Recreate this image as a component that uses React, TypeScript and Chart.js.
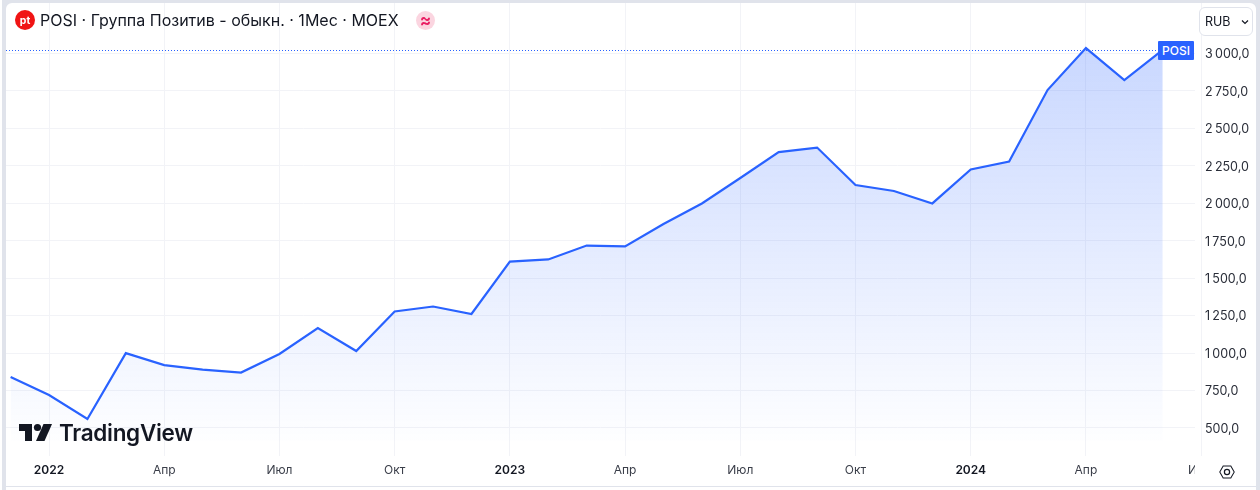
import React, { useEffect, useRef } from "react";
import { Chart, registerables } from "chart.js";

Chart.register(...registerables);

const monthIndex = [-1, 0, 1, 2, 3, 4, 5, 6, 7, 8, 9, 10, 11, 12, 13, 14, 15, 16, 17, 18, 19, 20, 21, 22, 23, 24, 25, 26, 27, 28, 29];
const closePrices = [840, 720, 560, 1000, 920, 890, 870, 994, 1167, 1014, 1278, 1311, 1261, 1611, 1625, 1718, 1712, 1862, 1999, 2169, 2342, 2372, 2122, 2082, 1999, 2226, 2279, 2756, 3036, 2823, 3024];
const lastPrice = 3024;
const xTickIndex = [0, 3, 6, 9, 12, 15, 18, 21, 24, 27, 30];
const xTickLabels = ["2022", "Апр", "Июл", "Окт", "2023", "Апр", "Июл", "Окт", "2024", "Апр", "Июл"];
const boldXTicks = ["2022", "2023", "2024"];
const yTicks = [500, 750, 1000, 1250, 1500, 1750, 2000, 2250, 2500, 2750, 3000];

const FONT = "Inter, 'Noto Sans', sans-serif";
const fmt = (v: number) => {
  const s = String(v);
  const int = s.length > 3 ? s.slice(0, -3) + "\u202f" + s.slice(-3) : s;
  return int + ",0";
};

const priceLine = {
  id: "priceLine",
  afterDatasetsDraw(chart: any) {
    const { ctx, chartArea, scales } = chart;
    const y = Math.round(scales.y.getPixelForValue(lastPrice)) + 0.5;
    ctx.save();
    ctx.strokeStyle = "#2962ff";
    ctx.lineWidth = 1;
    ctx.setLineDash([1, 2]);
    ctx.beginPath();
    ctx.moveTo(chartArea.left, y);
    ctx.lineTo(chartArea.right - 37, y);
    ctx.stroke();
    ctx.restore();
  },
};

export default function App() {
  const ref = useRef<HTMLCanvasElement>(null);
  useEffect(() => {
    const chart = new Chart(ref.current!, {
      type: "line",
      data: {
        datasets: [
          {
            data: monthIndex.map((m, i) => ({ x: m, y: closePrices[i] })),
            borderColor: "#2962ff",
            borderWidth: 2.2,
            pointRadius: 0,
            tension: 0,
            fill: { value: 415 },
            backgroundColor: (c: any) => {
              const a = c.chart.chartArea;
              if (!a) return "rgba(41,98,255,0.2)";
              const g = c.chart.ctx.createLinearGradient(0, 45, 0, 440);
              g.addColorStop(0, "rgba(41,98,255,0.25)");
              g.addColorStop(1, "rgba(41,98,255,0.005)");
              return g;
            },
          },
        ],
      },
      options: {
        animation: false,
        responsive: false,
        maintainAspectRatio: false,
        layout: { padding: 0 },
        plugins: { legend: { display: false }, tooltip: { enabled: false } },
        scales: {
          x: {
            type: "linear",
            min: -1.12,
            max: 29.84,
            afterBuildTicks: (s: any) => {
              s.ticks = xTickIndex.map((value) => ({ value }));
            },
            afterFit: (s: any) => {
              s.height = 30;
              s.paddingLeft = 0;
              s.paddingRight = 0;
            },
            border: { display: false },
            grid: { color: "#f2f3f7", drawTicks: false, lineWidth: 1 },
            ticks: {
              autoSkip: false,
              maxRotation: 0,
              padding: 7,
              color: (c: any) => (boldXTicks.includes(xTickLabels[xTickIndex.indexOf(c.tick?.value)]) ? "#131722" : "#3a3e49"),
              font: (c: any) => {
                const lab = xTickLabels[xTickIndex.indexOf(c.tick?.value)];
                return { family: FONT, size: 12, weight: boldXTicks.includes(lab) ? 600 : 400 };
              },
              callback: (v: any) => xTickLabels[xTickIndex.indexOf(Number(v))],
            },
          },
          y: {
            position: "right",
            min: 313,
            max: 3337,
            afterBuildTicks: (s: any) => {
              s.ticks = yTicks.map((value) => ({ value }));
            },
            afterFit: (s: any) => {
              s.width = 61;
              s.paddingTop = 0;
              s.paddingBottom = 0;
            },
            border: { display: false },
            grid: { color: "#f2f3f7", drawTicks: false, lineWidth: 1 },
            ticks: {
              padding: 10,
              crossAlign: "near",
              labelOffset: 1,
              color: "#2a2e39",
              font: { family: FONT, size: 12.5 },
              callback: (v: any) => fmt(Number(v)),
            },
          },
        },
      },
      plugins: [priceLine],
    } as any);
    return () => chart.destroy();
  }, []);

  return (
    <div style={{ position: "absolute", left: 0, top: 0, width: 1260, height: 490, background: "#fff", overflow: "hidden", fontFamily: FONT }}>
      <div style={{ position: "absolute", left: 2, top: 0, width: 1258, height: 490, background: "#e0e3eb" }} />
      <div style={{ position: "absolute", left: 6, top: 3, width: 1250, height: 483, background: "#fff", borderRadius: "6px 6px 0 0" }} />
      <div style={{ position: "absolute", left: 6, top: 487, width: 1250, height: 3, background: "#fff" }} />
      <canvas ref={ref} width={1250} height={483} style={{ position: "absolute", left: 6, top: 3, width: 1250, height: 483 }} />
      {/* header */}
      <svg style={{ position: "absolute", left: 15, top: 10 }} width={20} height={20}>
        <circle cx={10} cy={10} r={10} fill="#f01414" />
        <text x={10} y={13.5} textAnchor="middle" fill="#fff" fontSize={10.5} fontWeight={700} fontFamily={FONT}>pt</text>
      </svg>
      <div style={{ position: "absolute", left: 40, top: 10, height: 20, lineHeight: "20px", fontSize: 16, color: "#131722", whiteSpace: "nowrap" }}>
        POSI · Группа Позитив - обыкн. · 1Мес · MOEX
      </div>
      <div style={{ position: "absolute", left: 416, top: 11, width: 19, height: 19, borderRadius: 10, background: "#fbd5e0", color: "#e91e63", fontSize: 17, fontWeight: 700, lineHeight: "18px", textAlign: "center" }}>≈</div>
      {/* currency */}
      <div style={{ position: "absolute", left: 1199, top: 7, width: 52, height: 27, border: "1px solid #e0e3eb", borderRadius: 6, background: "#fff", fontSize: 12.5, lineHeight: "27px", color: "#131722", boxSizing: "content-box" }}>
        <span style={{ position: "absolute", left: 5 }}>RUB</span>
        <svg style={{ position: "absolute", left: 41, top: 11 }} width={8} height={6}>
          <path d="M1 1.5 L4 4.5 L7 1.5" fill="none" stroke="#131722" strokeWidth={1.2} />
        </svg>
      </div>
      {/* last price tag */}
      <div style={{ position: "absolute", left: 1158, top: 41, width: 36, height: 19, background: "#2962ff", color: "#fff", fontSize: 12, fontWeight: 500, lineHeight: "19px", textAlign: "center", borderRadius: "1px" }}>POSI</div>
      {/* covers the part of the next month label hidden behind the settings corner */}
      <div style={{ position: "absolute", left: 1195, top: 457, width: 61, height: 28, background: "#fff" }} />
      <svg style={{ position: "absolute", left: 1217, top: 462 }} width={20} height={20} viewBox="0 0 20 20">
        <path d="M5.5 3 L14.5 3 L18.5 10 L14.5 17 L5.5 17 L1.5 10 Z" fill="none" stroke="#131722" strokeWidth={1.2} transform="translate(1.5 1.5) scale(.85)" />
        <circle cx={10} cy={10} r={2.6} fill="none" stroke="#131722" strokeWidth={1.2} />
      </svg>
      {/* watermark */}
      <svg style={{ position: "absolute", left: 19, top: 423 }} width={34} height={19} viewBox="0 0 34 19">
        <path d="M0 1 H13 V18 H6 V8 H0 Z" fill="#131722" />
        <circle cx={18.5} cy={4.5} r={3.6} fill="#131722" />
        <path d="M24.5 1 H33 L25.5 18 H17 Z" fill="#131722" />
      </svg>
      <div style={{ position: "absolute", left: 59, top: 418, height: 30, lineHeight: "30px", fontSize: 22.5, fontWeight: 600, color: "#131722", letterSpacing: -0.3 }}>TradingView</div>
    </div>
  );
}
